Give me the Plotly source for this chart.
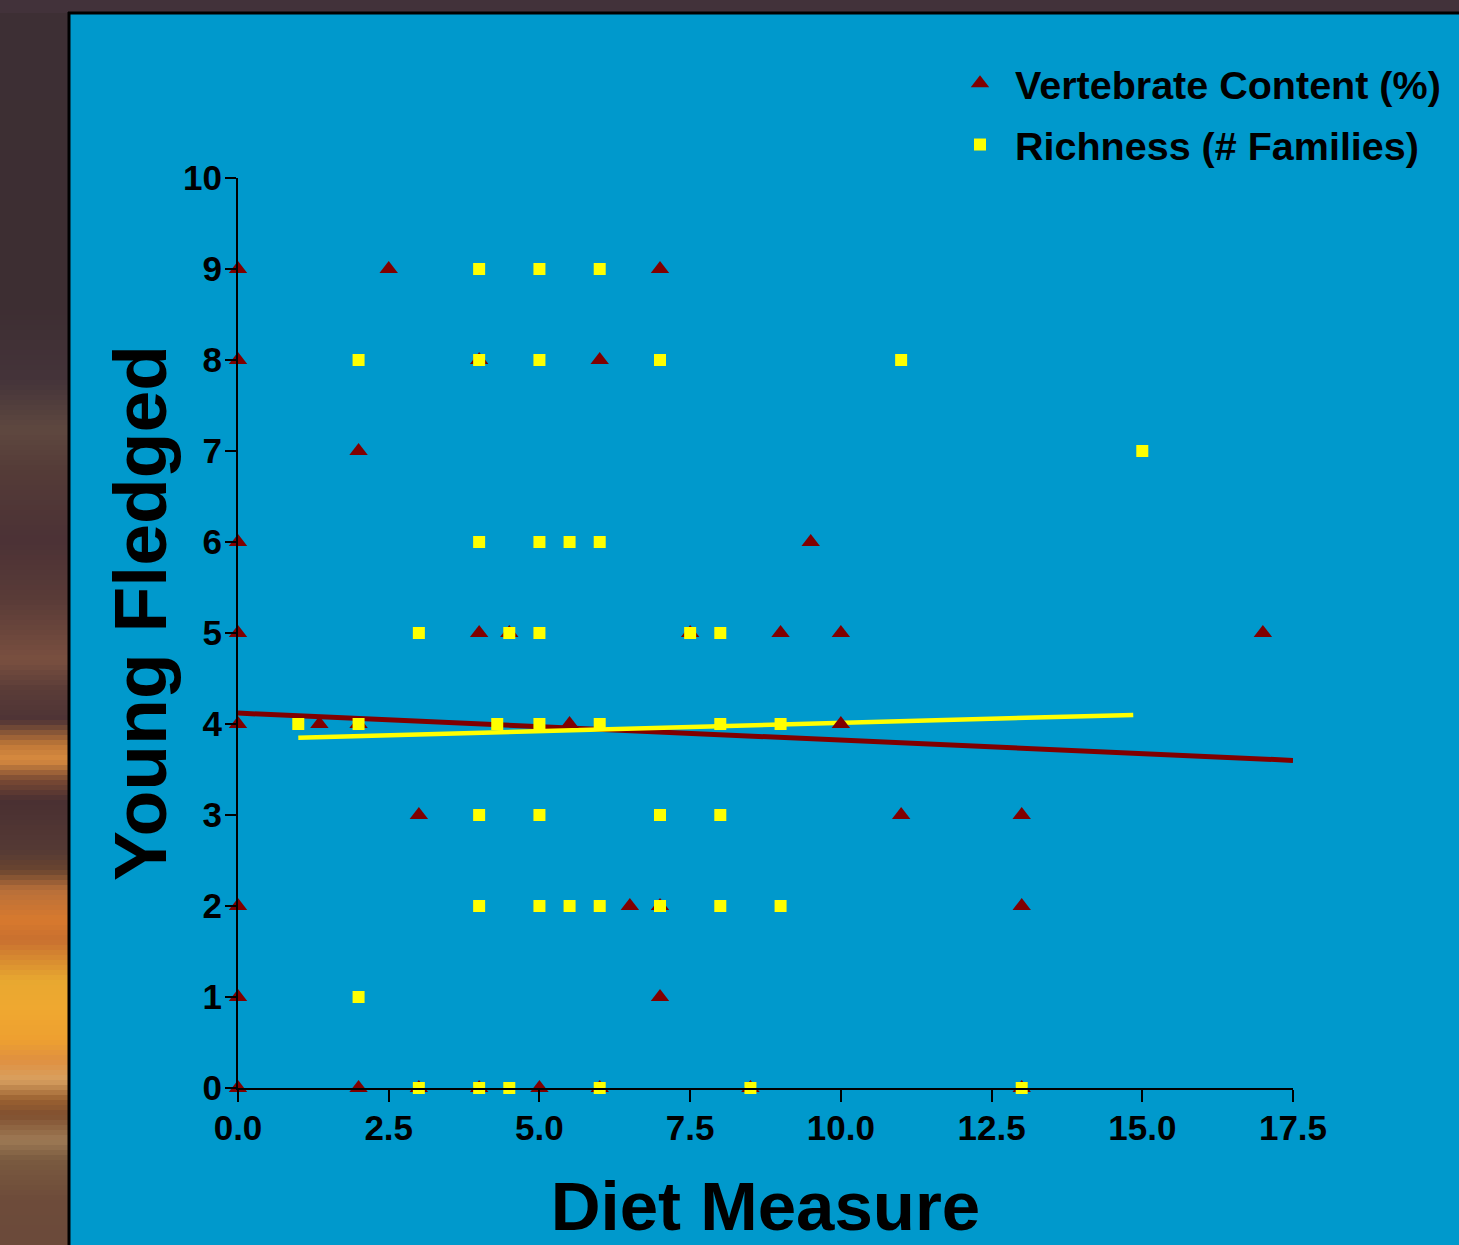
import plotly.graph_objects as go

# ---------------- data ----------------
vert_x = [0, 2.5, 7,
          0, 4, 6,
          2,
          0, 9.5,
          0, 4, 4.5, 7.5, 9, 10, 17,
          0, 1.35, 2, 5.5, 10,
          3, 11, 13,
          0, 6.5, 7, 13,
          0, 7,
          0, 2, 3, 4, 5, 6, 8.5, 13]
vert_y = [9, 9, 9,
          8, 8, 8,
          7,
          6, 6,
          5, 5, 5, 5, 5, 5, 5,
          4, 4, 4, 4, 4,
          3, 3, 3,
          2, 2, 2, 2,
          1, 1,
          0, 0, 0, 0, 0, 0, 0, 0]

rich_x = [4, 5, 6,
          2, 4, 5, 7, 11,
          15,
          4, 5, 5.5, 6,
          3, 4.5, 5, 7.5, 8,
          1, 2, 4.3, 5, 6, 8, 9,
          4, 5, 7, 8,
          4, 5, 5.5, 6, 7, 8, 9,
          2,
          3, 4, 4.5, 6, 8.5, 13]
rich_y = [9, 9, 9,
          8, 8, 8, 8, 8,
          7,
          6, 6, 6, 6,
          5, 5, 5, 5, 5,
          4, 4, 4, 4, 4, 4, 4,
          3, 3, 3, 3,
          2, 2, 2, 2, 2, 2, 2,
          1,
          0, 0, 0, 0, 0, 0]

vert_fit_x = [0.0, 17.5]
vert_fit_y = [4.12, 3.60]
rich_fit_x = [1.0, 14.85]
rich_fit_y = [3.85, 4.10]

x_tick_vals = [0, 2.5, 5, 7.5, 10, 12.5, 15, 17.5]
x_tick_text = ["0.0", "2.5", "5.0", "7.5", "10.0", "12.5", "15.0", "17.5"]
y_tick_vals = [0, 1, 2, 3, 4, 5, 6, 7, 8, 9, 10]
y_tick_text = ["0", "1", "2", "3", "4", "5", "6", "7", "8", "9", "10"]

series_names = ["Vertebrate Content (%)", "Richness (# Families)"]

# ---------------- style ----------------
W, H = 1459, 1245
L, R, T, B = 238, 1293, 178, 1088
FONT = "Liberation Sans, Arial, sans-serif"
BLUE = "#0099CC"
MAROON = "#800000"
YELLOW = "#FFFF00"


def px(xp):
    return (xp - L) / (R - L)


def py(yp):
    return (B - yp) / (B - T)


fig = go.Figure()

fig.add_trace(go.Scatter(x=vert_fit_x, y=vert_fit_y, mode="lines",
                         line=dict(color=MAROON, width=5), showlegend=False,
                         hoverinfo="skip", cliponaxis=False))
fig.add_trace(go.Scatter(x=rich_fit_x, y=rich_fit_y, mode="lines",
                         line=dict(color=YELLOW, width=4.5), showlegend=False,
                         hoverinfo="skip", cliponaxis=False))
fig.add_trace(go.Scatter(x=vert_x, y=vert_y, mode="markers", name=series_names[0],
                         marker=dict(symbol="triangle-up", size=16, color=MAROON),
                         cliponaxis=False, legendgroup="a"))
fig.add_trace(go.Scatter(x=rich_x, y=rich_y, mode="markers", name=series_names[1],
                         marker=dict(symbol="square", size=12, color=YELLOW),
                         cliponaxis=False, legendgroup="b"))

# ---------------- background decoration ----------------
strip_stops = [
    (0, "#3e3035"), (300, "#3d2e32"), (380, "#45343a"), (430, "#5f4840"),
    (470, "#553c38"), (540, "#4c3236"), (600, "#5a3c38"), (660, "#7a5040"),
    (690, "#5a3c38"), (720, "#4f3436"), (745, "#c07838"), (760, "#d98c40"),
    (780, "#7a4a34"), (800, "#4a3032"), (850, "#553a35"), (870, "#6a4530"),
    (890, "#b8703a"), (920, "#d87a2e"), (940, "#c87030"), (980, "#e8a830"),
    (1010, "#f0a830"), (1040, "#eea030"), (1060, "#e09040"), (1080, "#d8a060"),
    (1100, "#9a6030"), (1115, "#805030"), (1140, "#9e7a55"), (1160, "#7a5a40"),
    (1200, "#6e4c3a"), (1245, "#6b4a3a"),
]


def hex2rgb(h):
    h = h.lstrip("#")
    return tuple(int(h[i:i + 2], 16) for i in (0, 2, 4))


shapes = []
step = 5
for y0 in range(0, H, step):
    yc = y0 + step / 2
    col = strip_stops[-1][1]
    for (a, ca), (b, cb) in zip(strip_stops[:-1], strip_stops[1:]):
        if a <= yc <= b:
            t = (yc - a) / (b - a) if b > a else 0
            r1, g1, b1 = hex2rgb(ca)
            r2, g2, b2 = hex2rgb(cb)
            col = "rgb(%d,%d,%d)" % (r1 + (r2 - r1) * t, g1 + (g2 - g1) * t, b1 + (b2 - b1) * t)
            break
    shapes.append(dict(type="rect", xref="paper", yref="paper", layer="below",
                       x0=px(-2), x1=px(69), y0=py(y0 + step + 0.5), y1=py(y0),
                       fillcolor=col, line=dict(width=0)))
# top dark strip
shapes.append(dict(type="rect", xref="paper", yref="paper", layer="below",
                   x0=px(-2), x1=px(W + 5), y0=py(13), y1=py(-2),
                   fillcolor="#42323a", line=dict(width=0)))
# black border of panel
shapes.append(dict(type="line", xref="paper", yref="paper", layer="below",
                   x0=px(69), x1=px(69), y0=py(12), y1=py(H + 5),
                   line=dict(color="black", width=3)))
shapes.append(dict(type="line", xref="paper", yref="paper", layer="below",
                   x0=px(68), x1=px(W + 5), y0=py(13), y1=py(13),
                   line=dict(color="black", width=3)))

fig.update_layout(
    width=W, height=H,
    margin=dict(l=L, r=W - R, t=T, b=H - B, pad=0),
    paper_bgcolor=BLUE, plot_bgcolor=BLUE,
    font=dict(family=FONT, color="black"),
    shapes=shapes,
    showlegend=True,
    legend=dict(x=px(945), y=py(51), xanchor="left", yanchor="top",
                bgcolor="rgba(0,0,0,0)", font=dict(size=39.5, family=FONT, weight="bold"),
                tracegroupgap=7, itemwidth=60),
    xaxis=dict(range=[0, 17.5], tickvals=x_tick_vals, ticktext=x_tick_text,
               showgrid=False, zeroline=False, showline=True, linecolor="black",
               linewidth=2, ticks="outside", ticklen=12, tickwidth=2, tickcolor="black",
               ticklabelstandoff=-4,
               tickfont=dict(size=35, family=FONT, weight="bold"),
               title=dict(text="Diet Measure", font=dict(size=69, family=FONT, weight="bold"),
                          standoff=37)),
    yaxis=dict(range=[0, 10], tickvals=y_tick_vals, ticktext=y_tick_text,
               showgrid=False, zeroline=False, showline=True, linecolor="black",
               linewidth=2, ticks="outside", ticklen=11, tickwidth=2, tickcolor="black",
               ticklabelstandoff=-4,
               tickfont=dict(size=35, family=FONT, weight="bold")),
    annotations=[dict(text="Young Fledged", xref="paper", yref="paper",
                      x=px(140), y=py(613), xanchor="center", yanchor="middle",
                      textangle=-90, showarrow=False,
                      font=dict(size=75, family=FONT, weight="bold", color="black"))],
)

fig.write_html("out.html", config={"displayModeBar": False},
               post_script="document.body.style.margin='0px';document.body.style.padding='0px';")
